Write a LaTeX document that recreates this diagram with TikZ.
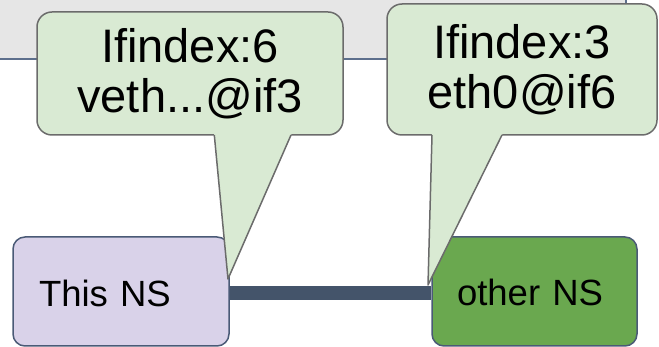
\documentclass[tikz,border=0pt]{standalone}
\usepackage{fontspec}
\setmainfont{Liberation Sans}
\definecolor{bubblefill}{HTML}{D9EAD3}
\definecolor{bubbleline}{HTML}{6B6B6B}
\definecolor{thisfill}{HTML}{D9D2E9}
\definecolor{otherfill}{HTML}{6AA84F}
\definecolor{nsline}{HTML}{4A5A76}
\definecolor{linkcol}{HTML}{44546A}
\definecolor{topfill}{HTML}{E6E6E6}
\definecolor{topline}{HTML}{5D6F8C}
\tikzset{
  bubble/.style={draw=bubbleline, line width=1.5pt, fill=bubblefill, rounded corners=15pt,
    inner sep=0pt, align=center, font=\fontsize{47}{50}\selectfont},
  tailfill/.style={fill=bubblefill},
  tailline/.style={draw=bubbleline, line width=1.5pt, line join=round},
  nsbox/.style={draw=nsline, line width=1.5pt, rounded corners=12pt, inner ysep=0pt,
    align=left, text depth=0pt, font=\fontsize{36.5}{40}\selectfont},
  link/.style={draw=linkcol, line width=14pt},
}
\begin{document}
\begin{tikzpicture}[x=1pt,y=-1pt]
\useasboundingbox (0,0) rectangle (659,347);
% background panel
\fill[topfill] (-5,-5) rectangle (626,59);
\draw[topline, line width=1.2pt] (-5,59) -- (626,59) -- (626,-5);
% namespaces
\node[nsbox, fill=thisfill, minimum width=216pt, minimum height=109pt, text width=164pt,
      inner xsep=26pt, text height=31pt] (this) at (121,291.5) {This NS};
\node[nsbox, fill=otherfill, minimum width=205pt, minimum height=109pt, text width=155pt,
      inner xsep=25pt, text height=29pt] (other) at (534.5,291.5) {other NS};
\draw[link] ([yshift=-1.5pt]this.east) -- ([yshift=-1.5pt]other.west);
% callout 1
\node[bubble, minimum width=306pt, minimum height=123pt] (c1) at (190,73.5) {Ifindex:6\\veth...@if3};
\fill[tailfill] (214.1,133.5) -- (291.7,133.5) -- (228,279) -- cycle;
\draw[tailline] (214.3,135) -- (228,279) -- (291,135);
% callout 2
\node[bubble, minimum width=270pt, minimum height=131pt] (c2) at (522,69.5) {Ifindex:3\\eth0@if6};
\fill[tailfill] (432,133.5) -- (502.7,133.5) -- (428,285) -- cycle;
\draw[tailline] (432,135) -- (428,285) -- (502,135);
\end{tikzpicture}
\end{document}
